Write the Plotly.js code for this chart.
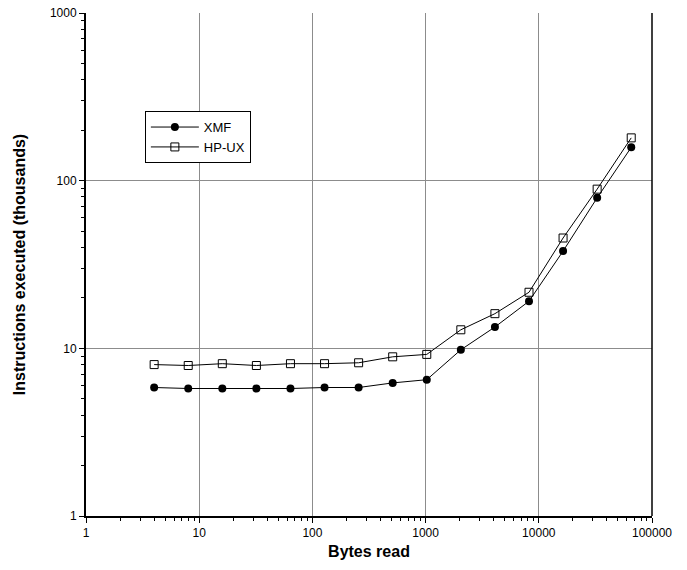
<!DOCTYPE html>
<html>
<head>
<meta charset="utf-8">
<script src="https://cdn.plot.ly/plotly-3.0.1.min.js"></script>
<style>
  html, body { margin: 0; padding: 0; background: #fff; }
  #chart { width: 687px; height: 570px; }
</style>
</head>
<body>
<div id="chart"></div>
<script>
// Bytes read per call (powers of two)
const bytesRead = [4, 8, 16, 32, 64, 128, 256, 512, 1024, 2048, 4096, 8192, 16384, 32768, 65536];

// Instructions executed, in thousands
const xmfInstr  = [5.84, 5.76, 5.76, 5.76, 5.76, 5.84, 5.84, 6.22, 6.5, 9.8, 13.4, 19.1, 38, 79, 158];
const hpuxInstr = [8.0, 7.9, 8.1, 7.9, 8.1, 8.1, 8.2, 8.9, 9.2, 12.9, 16.1, 21.6, 45.5, 89, 180];

const font = { family: 'Liberation Sans, Arial, sans-serif', color: '#000' };

const traces = [
  {
    x: bytesRead, y: xmfInstr, name: 'XMF', type: 'scatter', mode: 'lines+markers',
    line: { color: '#000', width: 1 },
    marker: { symbol: 'circle', size: 8, color: '#000' }
  },
  {
    x: bytesRead, y: hpuxInstr, name: 'HP-UX', type: 'scatter', mode: 'lines+markers',
    line: { color: '#000', width: 1 },
    marker: { symbol: 'square-open', size: 8, color: '#000', line: { width: 1 } }
  }
];

// Shared log-axis styling: decade labels as plain integers, 2..9 minor ticks
function logAxis(range, titleText, standoff) {
  return {
    type: 'log', range: range,
    tickmode: 'linear', tick0: 0, dtick: 1,
    tickformat: 'd',
    ticks: 'outside', ticklen: 5, tickcolor: '#000', tickwidth: 1,
    showgrid: true, gridcolor: '#8c8c8c', gridwidth: 1,
    showline: true, linecolor: '#000', linewidth: 2,
    zeroline: false,
    minor: { dtick: 'D1', ticks: 'outside', ticklen: 3, tickcolor: '#000', tickwidth: 1, showgrid: false },
    tickfont: Object.assign({ size: 12 }, font),
    title: { text: '<b>' + titleText + '</b>', font: Object.assign({ size: 16 }, font), standoff: standoff }
  };
}

const layout = {
  width: 687, height: 570,
  margin: { l: 86, r: 35, t: 13, b: 54 },
  paper_bgcolor: '#fff', plot_bgcolor: '#fff',
  font: Object.assign({ size: 12 }, font),
  showlegend: true,
  legend: {
    x: 0.104, y: 0.805, xanchor: 'left', yanchor: 'top',
    bgcolor: '#fff', bordercolor: '#000', borderwidth: 1,
    font: Object.assign({ size: 13 }, font),
    itemwidth: 48,
    tracegroupgap: 0
  },
  xaxis: logAxis([0, 5], 'Bytes read', 6),
  yaxis: logAxis([0, 3], 'Instructions executed (thousands)', 20),
  shapes: [
    // right-hand frame edge
    { type: 'line', xref: 'paper', yref: 'paper', x0: 1, x1: 1, y0: 0, y1: 1,
      line: { color: '#000', width: 1.5 } }
  ]
};

Plotly.newPlot('chart', traces, layout, { displayModeBar: false, staticPlot: true });
</script>
</body>
</html>
